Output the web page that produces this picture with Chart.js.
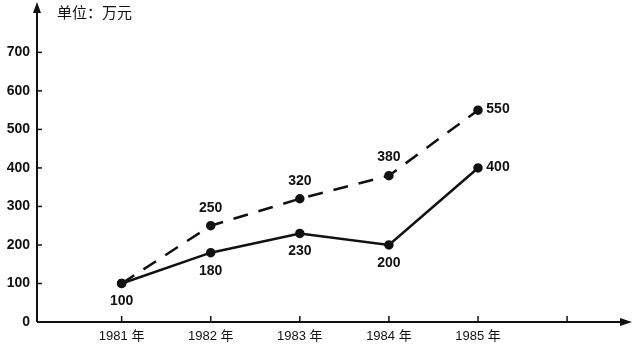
<!DOCTYPE html>
<html>
<head>
<meta charset="utf-8">
<script src="https://cdn.jsdelivr.net/npm/chart.js@4/dist/chart.umd.min.js"></script>
<style>
  html, body { margin: 0; padding: 0; background: #fff; }
  #wrap { width: 632px; height: 346px; }
</style>
</head>
<body>
<div id="wrap"><canvas id="lineChart" width="632" height="346"></canvas></div>
<script>
const years = [1981, 1982, 1983, 1984, 1985];
const yearLabels = ["1981 年", "1982 年", "1983 年", "1984 年", "1985 年"];
const upperValues = [100, 250, 320, 380, 550];  // dashed
const lowerValues = [100, 180, 230, 200, 400];  // solid
const upperLabelPos = ["none", "above", "above", "above", "right"];
const lowerLabelPos = ["below", "below", "below", "below", "right"];
const yTickValues = [0, 100, 200, 300, 400, 500, 600, 700];
const unitText = "单位：万元";

const ink = "#111";
const numFont = "bold 14px 'Liberation Sans', 'DejaVu Sans', sans-serif";

const toPoints = (vals) => vals.map((v, i) => ({ x: years[i], y: v }));

// axis arrows, inward tick marks, unit caption and value labels
const decorPlugin = {
  id: "decor",
  afterDraw(chart) {
    const ctx = chart.ctx;
    const area = chart.chartArea;
    const xs = chart.scales.x;
    const ys = chart.scales.y;
    ctx.save();
    ctx.fillStyle = ink;
    ctx.strokeStyle = ink;
    ctx.lineWidth = 2;

    // y axis up to arrow, x axis out to arrow
    ctx.beginPath();
    ctx.moveTo(area.left, area.bottom);
    ctx.lineTo(area.left, 8);
    ctx.moveTo(area.left, area.bottom);
    ctx.lineTo(626, area.bottom);
    ctx.stroke();

    ctx.beginPath();
    ctx.moveTo(area.left, 2);
    ctx.lineTo(area.left + 4, 13);
    ctx.lineTo(area.left - 4, 13);
    ctx.closePath();
    ctx.fill();

    ctx.beginPath();
    ctx.moveTo(632, area.bottom);
    ctx.lineTo(620, area.bottom - 4);
    ctx.lineTo(620, area.bottom + 4);
    ctx.closePath();
    ctx.fill();

    ctx.lineWidth = 1.5;
    yTickValues.forEach((v) => {
      if (v === 0) return;
      const py = ys.getPixelForValue(v);
      ctx.beginPath();
      ctx.moveTo(area.left, py);
      ctx.lineTo(area.left + 5, py);
      ctx.stroke();
    });
    years.concat([1986]).forEach((yr) => {
      const px = xs.getPixelForValue(yr);
      ctx.beginPath();
      ctx.moveTo(px, area.bottom);
      ctx.lineTo(px, area.bottom - 6);
      ctx.stroke();
    });

    ctx.font = "15px 'Noto Sans CJK SC', sans-serif";
    ctx.textAlign = "left";
    ctx.textBaseline = "middle";
    ctx.fillText(unitText, 57, 12);

    ctx.font = numFont;
    ctx.textAlign = "center";
    const drawLabels = (dsIndex, values, places) => {
      const meta = chart.getDatasetMeta(dsIndex);
      meta.data.forEach((pt, i) => {
        const p = places[i];
        if (p === "none") return;
        let x = pt.x, y = pt.y;
        if (p === "above") y -= 18;
        if (p === "below") y += 18;
        if (p === "right") { x += 20; y -= 1; }
        ctx.fillText(String(values[i]), x, y);
      });
    };
    drawLabels(0, lowerValues, lowerLabelPos);
    drawLabels(1, upperValues, upperLabelPos);
    ctx.restore();
  },
};

const lineChart = new Chart(document.getElementById("lineChart"), {
  type: "line",
  data: {
    datasets: [
      {
        label: "solid",
        data: toPoints(lowerValues),
        borderColor: ink,
        backgroundColor: ink,
        borderWidth: 2.5,
        pointRadius: 3.5,
        tension: 0,
      },
      {
        label: "dashed",
        data: toPoints(upperValues),
        borderColor: ink,
        backgroundColor: ink,
        borderWidth: 2.5,
        borderDash: [15, 11],
        pointRadius: 3.5,
        tension: 0,
      },
    ],
  },
  options: {
    responsive: false,
    animation: false,
    layout: { padding: { top: 2, right: 7, left: 0, bottom: 0 } },
    plugins: { legend: { display: false }, tooltip: { enabled: false } },
    scales: {
      x: {
        type: "linear",
        min: 1980.05,
        max: 1986.65,
        afterFit: (s) => { s.height = 24; },
        afterBuildTicks: (s) => { s.ticks = years.map((v) => ({ value: v })); },
        grid: { display: false, drawTicks: false },
        border: { display: false },
        ticks: {
          color: ink,
          padding: 7,
          maxRotation: 0,
          font: { family: "'Liberation Sans', 'Noto Sans CJK SC', sans-serif", size: 13 },
          callback: (v) => yearLabels[years.indexOf(v)],
        },
      },
      y: {
        min: 0,
        max: 796,
        afterFit: (s) => { s.width = 37; },
        afterBuildTicks: (s) => { s.ticks = yTickValues.map((v) => ({ value: v })); },
        grid: { display: false, drawTicks: false },
        border: { display: false },
        ticks: {
          color: ink,
          padding: 7,
          font: { family: "'Liberation Sans', sans-serif", size: 14, weight: "bold" },
        },
      },
    },
  },
  plugins: [decorPlugin],
});
</script>
</body>
</html>
